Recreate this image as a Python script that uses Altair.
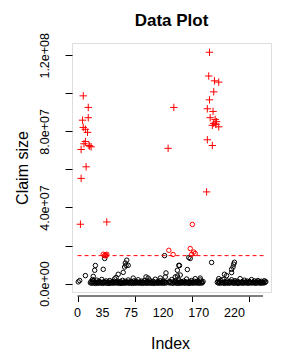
import altair as alt
import pandas as pd

# ---------------- data (values in millions) ----------------
# red "+" points (large claims)
plus_idx = [4, 5, 5, 7, 8, 8, 9, 11, 11, 12, 14, 15, 15, 16, 17, 19, 41, 127, 135,
            185, 184, 192, 198, 191, 185, 182, 190, 186, 193, 195, 191, 189, 198, 194, 182, 189, 181]
plus_val = [31.2, 55.3, 70.5, 85.9, 98.7, 82.1, 73.5, 81.1, 74.7, 61.4, 79.5, 87.2, 92.6, 72.6, 72.3, 71.9, 32.4, 71.1, 92.6,
            121.6, 109.1, 106.6, 105.9, 100.8, 96.6, 91.9, 90.5, 87.2, 86.3, 85.1, 84.2, 83.2, 82.4, 83.7, 75.6, 72.6, 48.2]

# red open circles (just above threshold)
rc_idx = [161, 158, 163, 160, 165, 134, 128, 36, 39, 41, 38, 40]
rc_val = [31.1, 18.4, 16.6, 15.4, 15.8, 15.3, 17.5, 15.4, 15.1, 15.4, 14.7, 14.6]

# black open circles, scattered ones
bc_idx = [1, 3, 11, 21, 22, 24, 25, 36, 38, 54, 57, 64, 66, 67, 68, 69, 71, 78, 96, 99, 116, 123, 124, 122,
          137, 140, 140, 142, 143, 144, 154, 156, 158, 165, 172, 188, 198, 206, 209, 216, 216, 218, 219, 220]
bc_val = [0.9, 1.6, 4.2, 2.1, 3.8, 7.0, 9.5, 7.5, 13.2, 3.2, 4.9, 5.9, 8.7, 10.8, 9.6, 12.3, 9.6, 2.9, 3.5, 2.9, 2.9, 3.5, 5.6, 14.7,
          3.5, 7.0, 4.0, 9.6, 9.5, 4.5, 7.4, 13.7, 13.2, 2.6, 2.9, 11.1, 2.6, 4.9, 4.2, 5.8, 7.5, 8.7, 10.2, 11.2]

# black open circles, dense band near zero
band1_start, band1_vals = 18, [
    0.4, 1.1, 0.2, 0.7, 1.5, 0.3, 0.9, 0.1, 0.6, 1.8, 0.2, 0.5, 1.2, 0.3, 0.8, 0.4, 2.2, 0.1, 0.6, 1.0,
    0.3, 0.7, 1.4, 0.2, 0.5, 0.9, 0.1, 1.6, 0.4, 0.3, 0.8, 1.1, 0.2, 0.6, 2.5, 0.3, 0.9, 0.5, 1.3, 0.2,
    0.7, 0.4, 1.0, 0.1, 0.6, 1.7, 0.3, 0.8, 0.2, 1.2, 0.5, 0.4, 0.9, 1.9, 0.2, 0.6, 0.3, 1.1, 0.7, 0.1,
    0.5, 1.4, 0.2, 0.8, 0.4, 1.0, 0.3, 2.0, 0.6, 0.2, 0.9, 0.5, 1.3, 0.1, 0.7, 0.4, 1.6, 0.3, 0.8, 0.2,
    1.1, 0.5, 0.3, 1.8, 0.6, 0.2, 0.9, 0.4, 1.2, 0.1, 0.7, 2.3, 0.3, 0.5, 1.0, 0.2, 0.8, 0.4, 1.5, 0.3,
    0.6, 0.9, 0.2, 1.1, 0.4, 0.7, 0.3]
band2_start, band2_vals = 128, [
    0.5, 1.2, 0.3, 0.8, 2.1, 0.4, 0.2, 1.0, 0.6, 1.5, 0.3, 0.9, 0.1, 0.7, 1.8, 0.4, 0.2, 1.1, 0.5, 0.8,
    0.3, 1.3, 0.6, 0.2, 0.9, 2.4, 0.4, 0.7, 0.1, 1.0, 0.5, 0.3, 1.6, 0.8, 0.2, 0.6, 1.2, 0.4, 0.9, 0.3,
    0.7, 1.4, 0.2, 0.5, 1.9, 0.3, 0.8, 0.4, 1.1]
band3_start, band3_vals = 196, [
    0.6, 1.3, 0.2, 0.9, 0.4, 1.7, 0.3, 0.7, 2.2, 0.5, 0.1, 1.0, 0.6, 0.3, 1.4, 0.8, 0.2, 0.5, 1.1, 0.4,
    2.0, 0.7, 0.3, 0.9, 0.2, 1.5, 0.6, 0.4, 1.2, 0.1, 0.8, 0.5, 2.6, 0.3, 0.7, 1.0, 0.2, 0.6, 1.8, 0.4,
    0.9, 0.3, 1.3, 0.5, 0.2, 1.1, 0.7, 0.4, 2.1, 0.3, 0.8, 0.6, 1.4, 0.2, 0.5, 1.0, 0.3, 1.6, 0.7, 0.4,
    0.9, 0.2, 1.2, 0.5, 0.8, 0.3, 1.5, 0.6, 1.0]

threshold = 14.7  # millions
thr_from, thr_to = 0, 265

title_text = "Data Plot"
x_ticks = list(range(0, 261, 5))
x_labels_shown = [0, 35, 75, 120, 170, 220]
y_ticks = [0, 20e6, 40e6, 60e6, 80e6, 100e6, 120e6]
y_label_vals = [0, 40e6, 80e6, 120e6]
y_label_text = ["0.0e+00", "4.0e+07", "8.0e+07", "1.2e+08"]

x_domain = [-7.8, 271.3]
y_domain = [-4.42e6, 126.47e6]

# ---------------- frames ----------------
M = 1e6
band_idx, band_val = [], []
for start, vals in [(band1_start, band1_vals), (band2_start, band2_vals), (band3_start, band3_vals)]:
    band_idx += [start + k for k in range(len(vals))]
    band_val += vals

black = pd.DataFrame({"idx": bc_idx + band_idx, "val": [v * M for v in bc_val + band_val]})
redc = pd.DataFrame({"idx": rc_idx, "val": [v * M for v in rc_val]})
plus = pd.DataFrame({"idx": plus_idx, "val": [v * M for v in plus_val]})
thr = pd.DataFrame({"x": [thr_from], "x2": [thr_to], "y": [threshold * M]})
xlab = pd.DataFrame({"v": x_labels_shown, "t": [str(v) for v in x_labels_shown]})
ttl = pd.DataFrame({"t": [title_text]})

FONT = "Liberation Sans"
W, H = 199, 249

lab_expr_y = ""
for v, t in zip(y_label_vals, y_label_text):
    lab_expr_y += f"datum.value == {int(v)} ? '{t}' : "
lab_expr_y += "''"

xs = alt.Scale(domain=x_domain, nice=False, zero=False)
ys = alt.Scale(domain=y_domain, nice=False, zero=False)

x_axis = alt.Axis(values=x_ticks, labels=False, tickSize=5.5, domain=False, grid=False,
                  tickColor="black", offset=4,
                  title="Index", titleFont=FONT, titleFontSize=16, titleFontWeight="normal",
                  titleColor="black", titleX=98, titleY=52, titleBaseline="alphabetic", titleAlign="center")
y_axis = alt.Axis(values=y_ticks, labelExpr=lab_expr_y, tickSize=7, domain=False, grid=False,
                  labelFont=FONT, labelFontSize=12.5, labelColor="black", labelPadding=17,
                  labelAngle=270, labelAlign="center", labelBaseline="alphabetic",
                  labelOverlap=False, labelFlush=False, tickColor="black",
                  title="Claim size", titleFont=FONT, titleFontSize=16, titleFontWeight="normal",
                  titleColor="black", titleAngle=270, titleX=-45, titleY=H / 2,
                  titleBaseline="alphabetic", titleAlign="center")

base_black = alt.Chart(black).mark_point(shape="circle", filled=False, color="black", size=20,
                                         strokeWidth=1, opacity=1).encode(
    x=alt.X("idx:Q", scale=xs, axis=x_axis),
    y=alt.Y("val:Q", scale=ys, axis=y_axis),
)
red_c = alt.Chart(redc).mark_point(shape="circle", filled=False, color="red", size=20,
                                   strokeWidth=1, opacity=1).encode(
    x=alt.X("idx:Q", scale=xs), y=alt.Y("val:Q", scale=ys))
red_p = alt.Chart(plus).mark_point(shape="M-1,0L1,0M0,-1L0,1", filled=False, color="red", size=55,
                                   strokeWidth=1, opacity=1).encode(
    x=alt.X("idx:Q", scale=xs), y=alt.Y("val:Q", scale=ys))
line = alt.Chart(thr).mark_rule(color="red", strokeDash=[4, 3], strokeWidth=1).encode(
    x=alt.X("x:Q", scale=xs), x2="x2:Q", y=alt.Y("y:Q", scale=ys))
comb = alt.Chart(pd.DataFrame({"a": [x_ticks[0]], "b": [x_ticks[-1]]})).mark_rule(
    color="black", strokeWidth=1).encode(
    x=alt.X("a:Q", scale=xs), x2="b:Q", y=alt.value(H + 4))
xtext = alt.Chart(xlab).mark_text(font=FONT, fontSize=12.5, color="black", baseline="top",
                                  align="center").encode(
    x=alt.X("v:Q", scale=xs), y=alt.value(H + 15), text="t:N")
title_mark = alt.Chart(ttl).mark_text(font=FONT, fontSize=17, fontWeight="bold", color="black",
                                      baseline="alphabetic", align="center").encode(
    x=alt.value(W / 2), y=alt.value(-17), text="t:N")

chart = alt.layer(base_black, red_c, red_p, line, comb, xtext, title_mark).properties(
    width=W, height=H,
    autosize=alt.AutoSizeParams(type="none"),
    padding={"left": 64, "top": 35, "right": 20, "bottom": 58},
).configure_view(stroke="black", strokeWidth=1).configure(background="white")

chart.save("out.html", embed_options={"renderer": "svg", "actions": False})
